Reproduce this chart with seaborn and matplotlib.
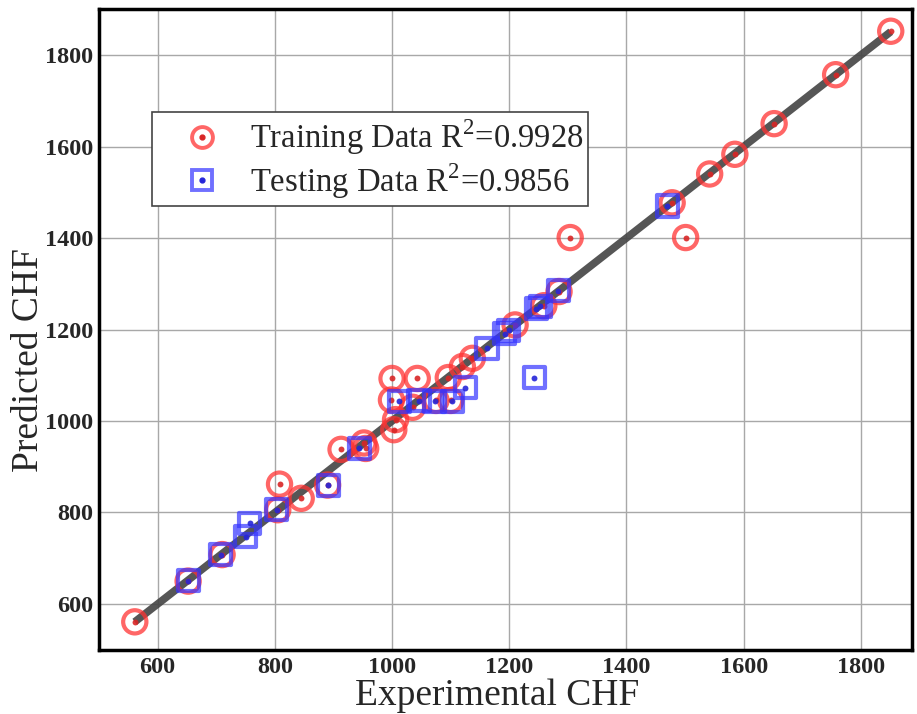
import matplotlib
matplotlib.use("Agg")
import matplotlib.pyplot as plt
import seaborn as sns
import pandas as pd
from matplotlib.lines import Line2D
from matplotlib.legend_handler import HandlerTuple

# ---- data ----
train_x = [561, 652, 710, 805, 808, 845, 890, 913, 952, 955, 1003, 1006, 1000, 999,
           1043, 1035, 1075, 1100, 1096, 1120, 1137, 1210, 1259, 1285, 1304, 1478,
           1501, 1542, 1585, 1652, 1757, 1851]
train_y = [561, 650, 708, 806, 862, 831, 860, 938, 952, 940, 981, 1003, 1093, 1046,
           1093, 1030, 1045, 1045, 1095, 1119, 1137, 1210, 1252, 1283, 1401, 1477,
           1401, 1540, 1583, 1650, 1757, 1852]
test_x = [652, 708, 750, 757, 803, 891, 944, 1012, 1046, 1073, 1103, 1125, 1162,
          1192, 1199, 1243, 1246, 1253, 1284, 1470]
test_y = [651, 708, 747, 776, 806, 860, 940, 1043, 1044, 1043, 1043, 1073, 1159,
          1191, 1198, 1095, 1245, 1251, 1285, 1470]
fit_x = [561, 1851]
fit_y = [561, 1851]
ticks = [600, 800, 1000, 1200, 1400, 1600, 1800]
train_label = "Training Data R$^2$=0.9928"
test_label = "Testing Data R$^2$=0.9856"

sns.set_style("white")
plt.rcParams['font.family'] = ['Liberation Serif', 'DejaVu Serif']
plt.rcParams['mathtext.fontset'] = 'custom'
plt.rcParams['mathtext.rm'] = 'Liberation Serif'

fig = plt.figure(figsize=(9.17, 7.14), dpi=100)
ax = fig.add_axes([0.108, 0.090, 0.887, 0.897])

red = (1.0, 0.2, 0.2)
blue = (0.2, 0.2, 1.0)

df_fit = pd.DataFrame({"x": fit_x, "y": fit_y})
sns.lineplot(data=df_fit, x="x", y="y", ax=ax, color="#444444", lw=5.5, alpha=0.9,
             zorder=2, solid_capstyle='butt')

df_tr = pd.DataFrame({"x": train_x, "y": train_y})
df_te = pd.DataFrame({"x": test_x, "y": test_y})

sns.scatterplot(data=df_tr, x="x", y="y", ax=ax, marker='o', s=280,
                facecolor='none', edgecolor=red, linewidth=3.0, alpha=0.75, zorder=3)
sns.scatterplot(data=df_tr, x="x", y="y", ax=ax, marker='o', s=18,
                color=(0.85, 0.15, 0.15), linewidth=0, alpha=0.9, zorder=3)
sns.scatterplot(data=df_te, x="x", y="y", ax=ax, marker='s', s=230,
                facecolor='none', edgecolor=blue, linewidth=3.0, alpha=0.7, zorder=4)
sns.scatterplot(data=df_te, x="x", y="y", ax=ax, marker='o', s=18,
                color=(0.15, 0.15, 0.85), linewidth=0, alpha=0.9, zorder=4)

ax.set_xlim(500, 1888)
ax.set_ylim(500, 1900)
ax.set_xticks(ticks)
ax.set_yticks(ticks)
ax.grid(True, color="#a8a8a8", lw=1.0)
ax.set_axisbelow(True)
for sp in ax.spines.values():
    sp.set_color("black")
    sp.set_linewidth(2.5)
ax.tick_params(axis='x', length=3, width=1.5, pad=2, labelsize=17.5)
ax.tick_params(axis='y', length=3, width=1.5, pad=1, labelsize=17.5)
for lab in ax.get_xticklabels() + ax.get_yticklabels():
    lab.set_fontweight('bold')

ax.set_xlabel("Experimental CHF", fontsize=27, va='center')
ax.xaxis.set_label_coords(0.49, -0.072)
ax.set_ylabel("Predicted CHF", fontsize=27, va='center')
ax.yaxis.set_label_coords(-0.087, 0.452)

h_tr = (Line2D([], [], marker='o', ls='none', markersize=15, markerfacecolor='none',
               markeredgecolor=red, markeredgewidth=2.8, alpha=0.75),
        Line2D([], [], marker='o', ls='none', markersize=3.5, color=(0.85, 0.15, 0.15)))
h_te = (Line2D([], [], marker='s', ls='none', markersize=14, markerfacecolor='none',
               markeredgecolor=blue, markeredgewidth=2.8, alpha=0.7),
        Line2D([], [], marker='o', ls='none', markersize=3.5, color=(0.15, 0.15, 0.85)))
leg = ax.legend([h_tr, h_te], [train_label, test_label],
                handler_map={tuple: HandlerTuple(ndivide=1)},
                loc='upper left', bbox_to_anchor=(0.065, 0.839), fontsize=23.5,
                frameon=True, fancybox=False, edgecolor='#444444', framealpha=1,
                borderpad=0.15, labelspacing=0.12, handlelength=2.8, handletextpad=0.05,
                borderaxespad=0)
leg.get_frame().set_linewidth(1.2)

fig.savefig("out.png", dpi=100)
